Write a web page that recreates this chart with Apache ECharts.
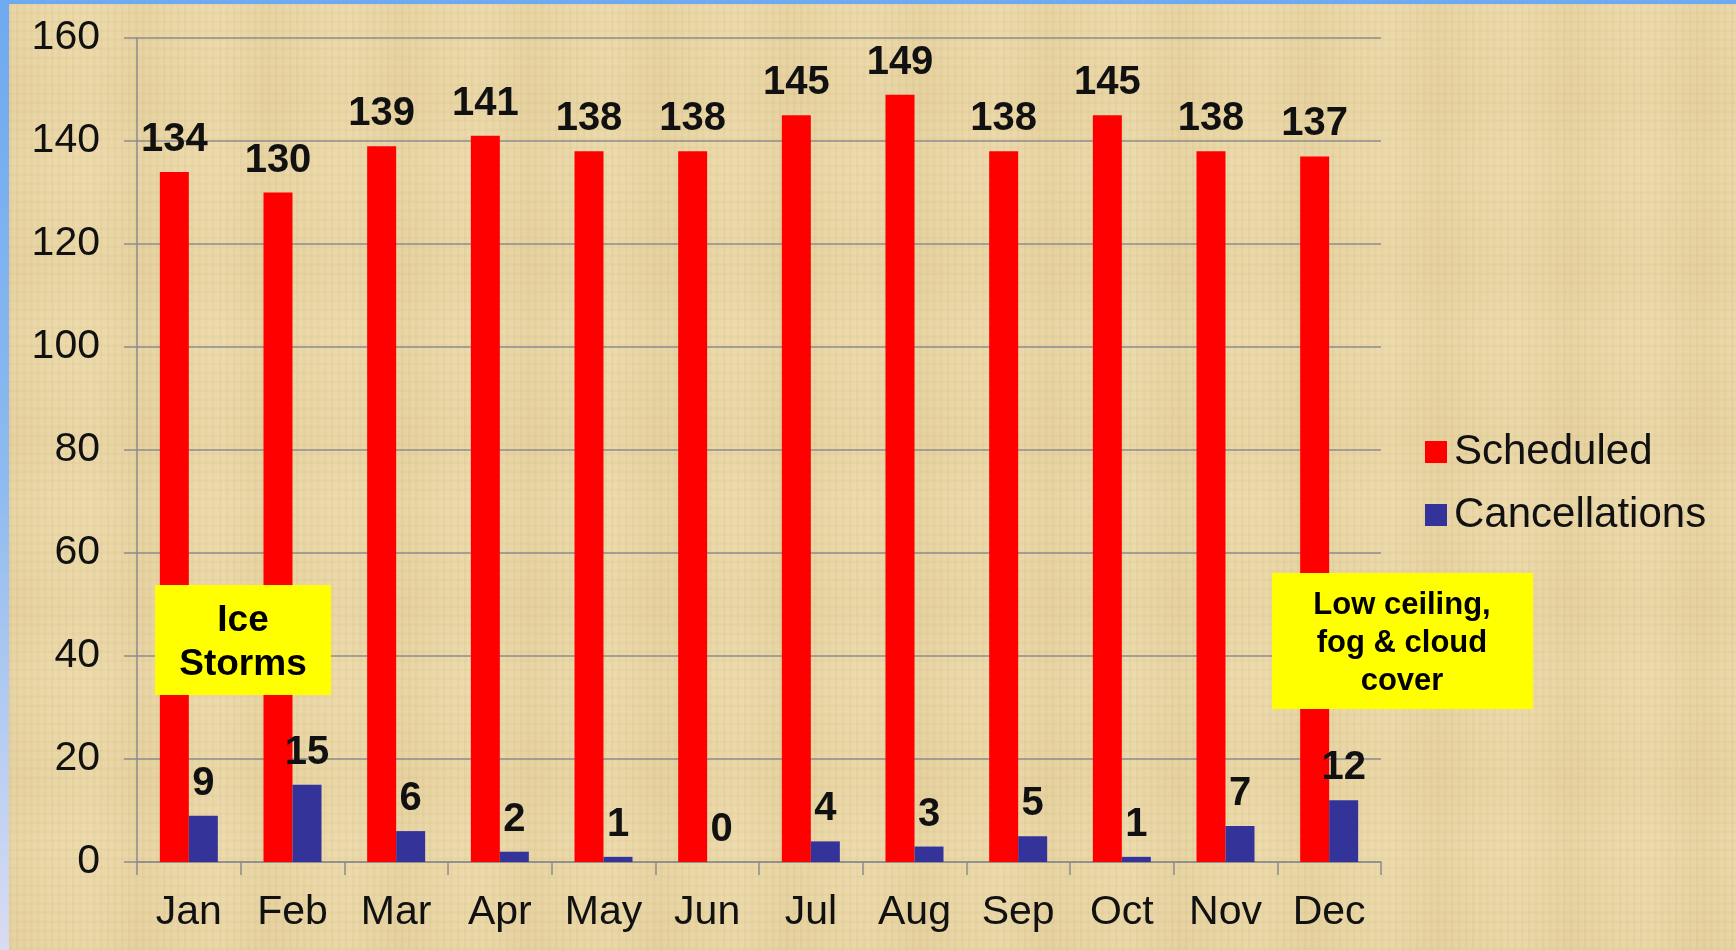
<!DOCTYPE html>
<html>
<head>
<meta charset="utf-8">
<script src="https://cdn.jsdelivr.net/npm/echarts@6/dist/echarts.min.js"></script>
<style>
  html, body { margin: 0; padding: 0; width: 1736px; height: 950px; overflow: hidden; }
  body {
    background: linear-gradient(180deg, #6fa9f0 0%, #8dbaf0 50%, #d9dcf2 100%);
    position: relative;
  }
  #paper {
    position: absolute; left: 9px; top: 4px; width: 1727px; height: 946px;
    background-color: #e8d4a2;
    background-image:
      repeating-linear-gradient(90deg, rgba(190,160,100,0.06) 0px, rgba(190,160,100,0.06) 2px, rgba(255,245,215,0.06) 3px, rgba(255,245,215,0.06) 7px),
      repeating-linear-gradient(0deg, rgba(190,160,100,0.05) 0px, rgba(190,160,100,0.05) 2px, rgba(255,245,215,0.05) 3px, rgba(255,245,215,0.05) 9px),
      repeating-linear-gradient(90deg, rgba(200,170,110,0.10) 0px, rgba(200,170,110,0.0) 40px, rgba(250,235,200,0.10) 80px, rgba(200,170,110,0.10) 130px),
      repeating-linear-gradient(0deg, rgba(200,170,110,0.06) 0px, rgba(200,170,110,0.0) 55px, rgba(250,235,200,0.08) 110px, rgba(200,170,110,0.06) 170px);
  }
  #chart { position: absolute; left: 0; top: 0; width: 1727px; height: 946px; }
</style>
</head>
<body>
<div id="paper"><div id="chart"></div></div>
<script>
const months = ['Jan','Feb','Mar','Apr','May','Jun','Jul','Aug','Sep','Oct','Nov','Dec'];
const scheduled = [134,130,139,141,138,138,145,149,138,145,138,137];
const cancellations = [9,15,6,2,1,0,4,3,5,1,7,12];
const yTicks = { min: 0, max: 160, interval: 20 };
const seriesNames = ['Scheduled', 'Cancellations'];
const notes = ['Ice\nStorms', 'Low ceiling,\nfog & cloud\ncover'];

const FONT = '"Liberation Sans", Arial, Helvetica, sans-serif';
const chart = echarts.init(document.getElementById('chart'), null, { renderer: 'canvas' });

const labelStyle = {
  show: true, position: 'top', distance: 12,
  fontFamily: FONT, fontSize: 40, fontWeight: 'bold', color: '#111'
};

chart.setOption({
  backgroundColor: 'transparent',
  animation: false,
  textStyle: { fontFamily: FONT },
  grid: { left: 128, top: 34, right: 355, bottom: 88, containLabel: false },
  legend: {
    orient: 'vertical', left: 1411, top: 421,
    itemWidth: 22, itemHeight: 22, itemGap: 19,
    icon: 'rect',
    textStyle: { fontFamily: FONT, fontSize: 42, color: '#111', lineHeight: 44, padding: [0,0,0,2] },
    data: seriesNames
  },
  xAxis: {
    type: 'category', data: months,
    axisLine: { lineStyle: { color: '#8c8c8c', width: 1.5 } },
    axisTick: { show: true, length: 13, lineStyle: { color: '#8c8c8c', width: 1.5 } },
    axisLabel: { fontFamily: FONT, fontSize: 41, color: '#111', margin: 30 }
  },
  yAxis: {
    type: 'value', min: yTicks.min, max: yTicks.max, interval: yTicks.interval,
    axisLine: { show: true, lineStyle: { color: '#8c8c8c', width: 1.5 } },
    axisTick: { show: true, length: 13, lineStyle: { color: '#8c8c8c', width: 1.5 } },
    axisLabel: { fontFamily: FONT, fontSize: 41, color: '#111', margin: 37 },
    splitLine: { show: true, lineStyle: { color: '#8c8c8c', width: 1.5 } }
  },
  series: [
    {
      name: seriesNames[0], type: 'bar', data: scheduled,
      barWidth: 29, barGap: '0%', barCategoryGap: '44%',
      itemStyle: { color: '#ff0000' },
      label: labelStyle
    },
    {
      name: seriesNames[1], type: 'bar', data: cancellations,
      barWidth: 29, barGap: '0%', barCategoryGap: '44%',
      itemStyle: { color: '#333399' },
      label: labelStyle
    }
  ],
  graphic: [
    {
      type: 'rect', left: 146, top: 581, z: 100,
      shape: { width: 176, height: 110 },
      style: { fill: '#ffff00' }
    },
    {
      type: 'text', z: 101,
      style: {
        x: 234, y: 639, text: notes[0], align: 'center', verticalAlign: 'middle',
        font: 'bold 37px ' + FONT, fill: '#000', lineHeight: 44
      }
    },
    {
      type: 'rect', left: 1263, top: 569, z: 100,
      shape: { width: 261, height: 136 },
      style: { fill: '#ffff00' }
    },
    {
      type: 'text', z: 101,
      style: {
        x: 1393, y: 639, text: notes[1], align: 'center', verticalAlign: 'middle',
        font: 'bold 31px ' + FONT, fill: '#000', lineHeight: 38
      }
    }
  ]
});
</script>
</body>
</html>
